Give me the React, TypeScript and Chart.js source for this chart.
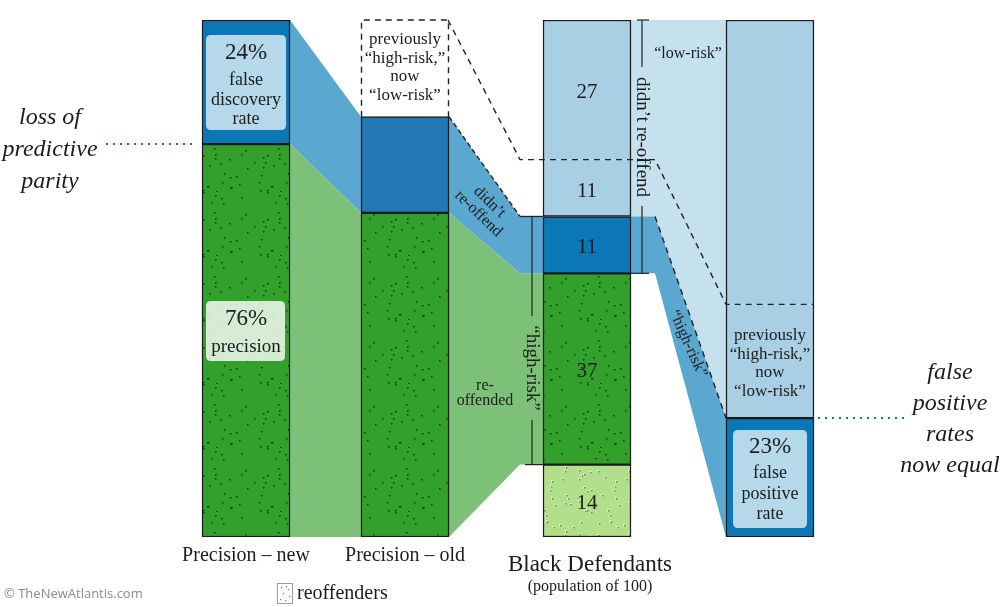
import React, { useEffect, useRef } from 'react';
import { Chart, registerables } from 'chart.js';

Chart.register(...registerables);

// ---------- data ----------
const categories = ['Precision – new', 'Precision – old', 'Black Defendants', 'False positive rate'];
// Precision – new (percent): [re-offended (precision), false discovery]
const precisionNew = [76, 24];
// Precision – old (percent): [re-offended, high-risk didn't re-offend, previously high-risk now low-risk]
const precisionOld = [62.7, 18.6, 18.7];
// Black defendants (count of 100), bottom to top
const blackDefendants = [14, 37, 11, 11, 27];
const blackLabels = ['14', '37', '11', '11', '27'];
// False positive bar (percent), bottom to top: [false positive, previously high-risk now low-risk, low-risk]
const falsePositive = [23, 22, 55];
const percentLabels = ['24%', '76%', '23%'];

// ---------- layout ----------
const barCenter = [246, 405, 587, 770];
const BAR_W = 88;
const BEND_LEFT = 520;
const BEND_RIGHT = 655;

const SERIF = '"Liberation Serif", "DejaVu Serif", serif';
const INK = '#1c1c1c';
const C = {
  darkBlue: '#0b77b6',
  oldBlue: '#2277b4',
  lightBlue: '#a8cfe4',
  paleBlue: '#c6e1ee',
  midBlue: '#5aa7d0',
  green: '#33a02c',
  lightGreen: '#b2df8a',
  flowGreen: '#7cc177',
  labelBlue: '#b5d8ea',
  dotted: '#1f6fb4',
};

function cumsum(a: number[]) {
  const out: number[] = [];
  let s = 0;
  for (const v of a) { s += v; out.push(s); }
  return out;
}

function makePattern(base: string, dot: string, count: number, size: number, dotSize: number, seed: number, light?: string) {
  const c = document.createElement('canvas');
  c.width = size; c.height = size;
  const g = c.getContext('2d')!;
  g.fillStyle = base;
  g.fillRect(0, 0, size, size);
  let s = seed >>> 0;
  const rnd = () => { s = (Math.imul(s, 1664525) + 1013904223) >>> 0; return s / 4294967296; };
  for (let i = 0; i < count; i++) {
    const x = Math.floor(rnd() * size);
    const y = Math.floor(rnd() * size);
    if (light) {
      g.fillStyle = light;
      g.fillRect(x - 1, y - 1, dotSize + 1, dotSize + 1);
    }
    g.fillStyle = dot;
    g.fillRect(x, y, dotSize, dotSize);
  }
  return g.createPattern(c, 'repeat')!;
}

function roundRect(ctx: CanvasRenderingContext2D, x: number, y: number, w: number, h: number, r: number) {
  ctx.beginPath();
  ctx.moveTo(x + r, y);
  ctx.lineTo(x + w - r, y);
  ctx.quadraticCurveTo(x + w, y, x + w, y + r);
  ctx.lineTo(x + w, y + h - r);
  ctx.quadraticCurveTo(x + w, y + h, x + w - r, y + h);
  ctx.lineTo(x + r, y + h);
  ctx.quadraticCurveTo(x, y + h, x, y + h - r);
  ctx.lineTo(x, y + r);
  ctx.quadraticCurveTo(x, y, x + r, y);
  ctx.closePath();
}

function text(ctx: CanvasRenderingContext2D, s: string, x: number, y: number, font: string, color = INK, align: CanvasTextAlign = 'center') {
  ctx.save();
  ctx.font = font;
  ctx.fillStyle = color;
  ctx.textAlign = align;
  ctx.textBaseline = 'middle';
  ctx.fillText(s, x, y);
  ctx.restore();
}

function rotText(ctx: CanvasRenderingContext2D, lines: string[], x: number, y: number, angleDeg: number, font: string, lh: number) {
  ctx.save();
  ctx.translate(x, y);
  ctx.rotate((angleDeg * Math.PI) / 180);
  ctx.font = font;
  ctx.fillStyle = INK;
  ctx.textAlign = 'center';
  ctx.textBaseline = 'middle';
  const n = lines.length;
  lines.forEach((l, i) => ctx.fillText(l, 0, (i - (n - 1) / 2) * lh));
  ctx.restore();
}

function poly(ctx: CanvasRenderingContext2D, pts: number[][], fill: string) {
  ctx.beginPath();
  ctx.moveTo(pts[0][0], pts[0][1]);
  for (let i = 1; i < pts.length; i++) ctx.lineTo(pts[i][0], pts[i][1]);
  ctx.closePath();
  ctx.fillStyle = fill;
  ctx.fill();
}

function line(ctx: CanvasRenderingContext2D, pts: number[][], dash: number[] = [], width = 1.3, color = '#222') {
  ctx.save();
  ctx.beginPath();
  ctx.setLineDash(dash);
  ctx.lineWidth = width;
  ctx.strokeStyle = color;
  ctx.moveTo(pts[0][0], pts[0][1]);
  for (let i = 1; i < pts.length; i++) ctx.lineTo(pts[i][0], pts[i][1]);
  ctx.stroke();
  ctx.restore();
}

export default function App() {
  const ref = useRef<HTMLCanvasElement>(null);

  useEffect(() => {
    document.body.style.margin = '0';
    const canvas = ref.current!;
    const greenPat = makePattern(C.green, '#143516', 34, 64, 1.5, 7);
    const lightGreenPat = makePattern(C.lightGreen, '#5d7a52', 36, 64, 1.5, 19, '#d9efc6');

    const newC = cumsum(precisionNew);
    const oldC = cumsum(precisionOld);
    const blkC = cumsum(blackDefendants);
    const fpC = cumsum(falsePositive);

    const seg = (xi: number, lo: number, hi: number, bg: any, extra: any = {}) => ({
      data: [{ x: barCenter[xi], y: [lo, hi] }],
      backgroundColor: bg,
      borderColor: '#1b1b1b',
      borderWidth: 1.5,
      borderSkipped: false,
      barThickness: BAR_W,
      grouped: false,
      ...extra,
    });

    const datasets = [
      seg(0, 0, newC[0], greenPat),
      seg(0, newC[0], newC[1], C.darkBlue),
      seg(1, 0, oldC[0], greenPat),
      seg(1, oldC[0], oldC[1], C.oldBlue),
      seg(1, oldC[1], oldC[2], 'rgba(255,255,255,1)', { borderWidth: 0 }),
      seg(2, 0, blkC[0], lightGreenPat),
      seg(2, blkC[0], blkC[1], greenPat),
      seg(2, blkC[1], blkC[2], C.darkBlue),
      seg(2, blkC[2], blkC[3], C.lightBlue, { borderSkipped: 'top' }),
      seg(2, blkC[3], blkC[4], C.lightBlue, { borderSkipped: 'bottom' }),
      seg(3, 0, fpC[0], C.darkBlue),
      seg(3, fpC[0], fpC[1], C.lightBlue, { borderSkipped: 'top' }),
      seg(3, fpC[1], fpC[2], C.lightBlue, { borderSkipped: 'bottom' }),
    ];

    const flows = {
      id: 'flows',
      beforeDatasetsDraw(chart: any) {
        const ctx: CanvasRenderingContext2D = chart.ctx;
        const xs = chart.scales.x, ys = chart.scales.y;
        const X = (v: number) => xs.getPixelForValue(v);
        const Y = (v: number) => ys.getPixelForValue(v);
        const h = BAR_W / 2;
        const nR = X(barCenter[0]) + h, oL = X(barCenter[1]) - h, oR = X(barCenter[1]) + h;
        const bL = X(barCenter[2]) - h, bR = X(barCenter[2]) + h, rL = X(barCenter[3]) - h;
        const b1 = X(BEND_LEFT), b2 = X(BEND_RIGHT);
        ctx.save();
        // new -> old
        poly(ctx, [[nR, Y(100)], [oL, Y(oldC[1])], [oL, Y(oldC[0])], [nR, Y(newC[0])]], C.midBlue);
        poly(ctx, [[nR, Y(newC[0])], [oL, Y(oldC[0])], [oL, Y(0)], [nR, Y(0)]], C.flowGreen);
        // old -> black
        poly(ctx, [[oR, Y(oldC[1])], [b1, Y(blkC[2])], [bL, Y(blkC[2])], [bL, Y(blkC[1])], [b1, Y(blkC[1])], [oR, Y(oldC[0])]], C.midBlue);
        poly(ctx, [[oR, Y(oldC[0])], [b1, Y(blkC[1])], [bL, Y(blkC[1])], [bL, Y(blkC[0])], [b1, Y(blkC[0])], [oR, Y(0)]], C.flowGreen);
        // black -> false positive bar
        poly(ctx, [[bR, Y(100)], [rL, Y(100)], [rL, Y(fpC[0])], [b2, Y(blkC[2])], [bR, Y(blkC[2])]], C.paleBlue);
        poly(ctx, [[bR, Y(blkC[2])], [b2, Y(blkC[2])], [rL, Y(fpC[0])], [rL, Y(0)], [b2, Y(blkC[1])], [bR, Y(blkC[1])]], C.midBlue);
        ctx.restore();
      },
      afterDatasetsDraw(chart: any) {
        const ctx: CanvasRenderingContext2D = chart.ctx;
        const xs = chart.scales.x, ys = chart.scales.y;
        const X = (v: number) => xs.getPixelForValue(v);
        const Y = (v: number) => ys.getPixelForValue(v);
        const h = BAR_W / 2;
        const nL = X(barCenter[0]) - h;
        const oL = X(barCenter[1]) - h, oR = X(barCenter[1]) + h;
        const bL = X(barCenter[2]) - h, bR = X(barCenter[2]) + h;
        const rL = X(barCenter[3]) - h, rR = X(barCenter[3]) + h;
        const b1 = X(BEND_LEFT), b2 = X(BEND_RIGHT);
        const dash = [6, 5];

        // dashed "previously high-risk" box on old bar
        line(ctx, [[oL + 0.5, Y(oldC[1])], [oL + 0.5, Y(100)], [oR - 0.5, Y(100)], [oR - 0.5, Y(oldC[1])]], dash, 1.4);
        // dashed path through black defendants to FPR bar
        line(ctx, [[oR - 1, Y(100)], [b1, Y(blkC[3])], [b2, Y(blkC[3])], [rL, Y(fpC[1])], [rR, Y(fpC[1])]], dash, 1.4);
        // dashed edges of blue flows
        line(ctx, [[oR, Y(oldC[1])], [b1, Y(blkC[2])]], [5, 3], 1.4);
        line(ctx, [[b2, Y(blkC[2])], [rL, Y(fpC[0])]], [6, 5], 1.4);

        // "high-risk" bracket (left of black bar)
        const hx = b1 + 12;
        line(ctx, [[b1, Y(blkC[2])], [bL, Y(blkC[2])]], [], 1.3);
        line(ctx, [[hx, Y(blkC[2])], [hx, 316]], [], 1.2);
        line(ctx, [[hx, 420], [hx, Y(blkC[0])]], [], 1.2);
        line(ctx, [[hx - 7, Y(blkC[0])], [bL, Y(blkC[0])]], [], 1.2);
        rotText(ctx, ['“high-risk”'], hx, 368, 90, `19px ${SERIF}`, 19);

        // "didn't re-offend" bracket (right of black bar)
        const dx = bR + 11;
        line(ctx, [[dx - 5, Y(100)], [dx + 7, Y(100)]], [], 1.2);
        line(ctx, [[dx, Y(100)], [dx, 67]], [], 1.2);
        line(ctx, [[dx, 206], [dx, Y(blkC[1])]], [], 1.2);
        line(ctx, [[bR, Y(blkC[1])], [dx + 7, Y(blkC[1])]], [], 1.2);
        rotText(ctx, ['didn’t re-offend'], dx, 137, 90, `19px ${SERIF}`, 19);

        // inner label boxes
        ctx.save();
        ctx.fillStyle = C.labelBlue;
        roundRect(ctx, nL + 4, 35, BAR_W - 8, 95, 5); ctx.fill();
        roundRect(ctx, rL + 7, 430, BAR_W - 14, 98, 5); ctx.fill();
        ctx.fillStyle = 'rgba(255,255,255,0.8)';
        roundRect(ctx, nL + 4, 301, BAR_W - 9, 60, 5); ctx.fill();
        ctx.restore();

        const cx = barCenter.map((v) => X(v));
        // precision new labels
        text(ctx, percentLabels[0], cx[0], 53, `23px ${SERIF}`);
        text(ctx, 'false', cx[0], 80, `18px ${SERIF}`);
        text(ctx, 'discovery', cx[0], 100, `18px ${SERIF}`);
        text(ctx, 'rate', cx[0], 119, `18px ${SERIF}`);
        text(ctx, percentLabels[1], cx[0], 319, `23px ${SERIF}`);
        text(ctx, 'precision', cx[0], 347, `19px ${SERIF}`);

        // old bar dashed box text
        ['previously', '“high-risk,”', 'now', '“low-risk”'].forEach((s, i) => text(ctx, s, cx[1], 40 + i * 18.5, `17px ${SERIF}`));

        // black defendants numbers
        blackDefendants.forEach((_, i) => {
          const lo = i === 0 ? 0 : blkC[i - 1];
          const mid = Y((lo + blkC[i]) / 2);
          text(ctx, blackLabels[i], cx[2], mid + 3, `21px ${SERIF}`);
        });

        // FPR bar
        ['previously', '“high-risk,”', 'now', '“low-risk”'].forEach((s, i) => text(ctx, s, cx[3], 336 + i * 18.5, `17px ${SERIF}`));
        text(ctx, percentLabels[2], cx[3], 447, `23px ${SERIF}`);
        text(ctx, 'false', cx[3], 473, `18px ${SERIF}`);
        text(ctx, 'positive', cx[3], 494, `18px ${SERIF}`);
        text(ctx, 'rate', cx[3], 514, `18px ${SERIF}`);

        // flow labels
        rotText(ctx, ['didn’t', 're-offend'], 484, 208, 44, `16px ${SERIF}`, 16);
        text(ctx, 're-', 485, 386, `16px ${SERIF}`);
        text(ctx, 'offended', 485, 401, `16px ${SERIF}`);
        text(ctx, '“low-risk”', 688, 54, `16px ${SERIF}`);
        rotText(ctx, ['“high-risk”'], 688, 344, 66, `16px ${SERIF}`, 16);

        // dotted connectors
        line(ctx, [[106, Y(newC[0])], [192, Y(newC[0])]], [2, 5], 2, C.dotted);
        line(ctx, [[818, Y(fpC[0])], [904, Y(fpC[0])]], [2, 5], 2, C.dotted);

        // side annotations
        const it = `italic 24px ${SERIF}`;
        ['loss of', 'predictive', 'parity'].forEach((s, i) => text(ctx, s, 50, 118 + i * 32, it));
        ['false', 'positive', 'rates', 'now equal'].forEach((s, i) => text(ctx, s, 950, 373 + i * 31, it));

        // category labels
        text(ctx, categories[0], cx[0], 556, `20px ${SERIF}`);
        text(ctx, categories[1], cx[1], 556, `20px ${SERIF}`);
        text(ctx, categories[2], 590, 565, `23px ${SERIF}`);
        text(ctx, '(population of 100)', 590, 587, `16px ${SERIF}`);

        // legend
        ctx.save();
        ctx.fillStyle = '#ffffff';
        ctx.fillRect(277.5, 583.5, 15, 20);
        ctx.strokeStyle = '#9a9a9a';
        ctx.lineWidth = 1;
        ctx.strokeRect(277.5, 583.5, 15, 20);
        ctx.fillStyle = '#777';
        [[281, 587], [288, 589], [283, 593], [289, 596], [280, 599], [285, 600], [286, 586]].forEach(([a, b]) => ctx.fillRect(a, b, 1.2, 1.2));
        ctx.restore();
        text(ctx, 'reoffenders', 297, 594, `20px ${SERIF}`, INK, 'left');

        // credit
        text(ctx, '© TheNewAtlantis.com', 4, 594, `13px "Open Sans", "Noto Sans", sans-serif`, '#8a8a8a', 'left');
      },
    };

    const chart = new Chart(canvas, {
      type: 'bar',
      data: { datasets: datasets as any },
      options: {
        animation: false,
        responsive: false,
        devicePixelRatio: 1,
        layout: { padding: { top: 20, bottom: 70, left: 0, right: 0 } },
        plugins: { legend: { display: false }, tooltip: { enabled: false } },
        scales: {
          x: { type: 'linear', min: 0, max: 1000, display: false, offset: false },
          y: { type: 'linear', min: 0, max: 100, display: false },
        },
      },
      plugins: [flows],
    });
    return () => chart.destroy();
  }, []);

  return (
    <div style={{ position: 'absolute', left: 0, top: 0, width: 1000, height: 607, background: '#fff' }}>
      <canvas ref={ref} width={1000} height={607} style={{ display: 'block' }} />
    </div>
  );
}
